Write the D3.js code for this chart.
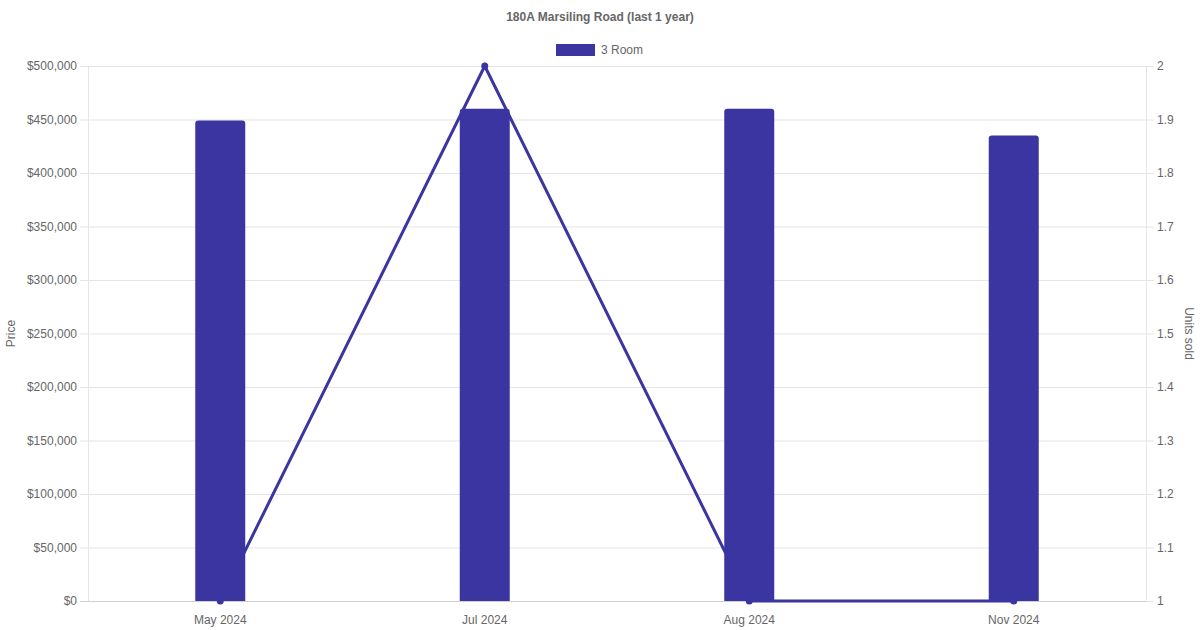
<!DOCTYPE html>
<html><head><meta charset="utf-8">
<script src="https://cdn.jsdelivr.net/npm/d3@7"></script>
<style>body{margin:0;background:#fff}svg{display:block;font-family:"Liberation Sans",Arial,Helvetica,sans-serif}</style>
</head><body><svg id="c" width="1200" height="630"></svg>
<script>
const title = "180A Marsiling Road (last 1 year)";
const seriesName = "3 Room";
const categories = ["May 2024", "Jul 2024", "Aug 2024", "Nov 2024"];
const prices = [449000, 460000, 460000, 435000];
const unitsSold = [1, 2, 1, 1];
const priceTicks = [0, 50000, 100000, 150000, 200000, 250000, 300000, 350000, 400000, 450000, 500000];
const unitTicks = [1, 1.1, 1.2, 1.3, 1.4, 1.5, 1.6, 1.7, 1.8, 1.9, 2];

const color = "#3a35a0";
const textColor = "#666";
const svg = d3.select("#c");
const L = 88, R = 1146, T = 66, B = 601;

const x = d3.scaleBand().domain(categories).range([L, R]);
const yP = d3.scaleLinear().domain([0, 500000]).range([B, T]);
const yU = d3.scaleLinear().domain([1, 2]).range([B, T]);

// gridlines
svg.append("g").selectAll("line").data(priceTicks).join("line")
  .attr("x1", L - 8).attr("x2", R).attr("y1", d => yP(d) + 0.5).attr("y2", d => yP(d) + 0.5)
  .attr("stroke", d => d === 0 ? "#cfcfcf" : "#e5e5e5").attr("stroke-width", 1);
svg.append("g").selectAll("line").data(unitTicks).join("line")
  .attr("x1", R).attr("x2", R + 8).attr("y1", d => yU(d) + 0.5).attr("y2", d => yU(d) + 0.5)
  .attr("stroke", "#e5e5e5");
svg.append("line").attr("x1", L + 0.5).attr("x2", L + 0.5).attr("y1", T).attr("y2", B).attr("stroke", "#e5e5e5");
svg.append("line").attr("x1", R + 0.5).attr("x2", R + 0.5).attr("y1", T).attr("y2", B).attr("stroke", "#e5e5e5");

// left axis labels
const fmt = d => "$" + d3.format(",")(d);
svg.append("g").selectAll("text").data(priceTicks).join("text")
  .attr("x", L - 11).attr("y", d => yP(d)).attr("dy", "0.35em").attr("text-anchor", "end")
  .attr("font-size", 12).attr("fill", textColor).text(fmt);
svg.append("g").selectAll("text").data(unitTicks).join("text")
  .attr("x", R + 11).attr("y", d => yU(d)).attr("dy", "0.35em").attr("text-anchor", "start")
  .attr("font-size", 12).attr("fill", textColor).text(d => d3.format("~g")(d));
// x labels
svg.append("g").selectAll("text").data(categories).join("text")
  .attr("x", d => x(d) + x.bandwidth() / 2).attr("y", 620).attr("dy", "0.35em").attr("text-anchor", "middle")
  .attr("font-size", 12).attr("fill", textColor).text(d => d);

// axis titles
svg.append("text").attr("transform", `translate(15,${(T + B) / 2}) rotate(-90)`).attr("text-anchor", "middle")
  .attr("font-size", 12).attr("fill", textColor).text("Price");
svg.append("text").attr("transform", `translate(1185,${(T + B) / 2}) rotate(90)`).attr("text-anchor", "middle")
  .attr("font-size", 12).attr("fill", textColor).text("Units sold");

// title and legend
svg.append("text").attr("x", 600).attr("y", 17).attr("dy", "0.35em").attr("text-anchor", "middle")
  .attr("font-size", 12).attr("font-weight", "bold").attr("fill", textColor).text(title);
svg.append("rect").attr("x", 556).attr("y", 44).attr("width", 39).attr("height", 12).attr("fill", color);
svg.append("text").attr("x", 601).attr("y", 50).attr("dy", "0.35em").attr("font-size", 12).attr("fill", textColor).text(seriesName);

// bars with rounded top
const bw = 50, r = 3;
svg.append("g").selectAll("path").data(categories).join("path")
  .attr("fill", color)
  .attr("d", (d, i) => {
    const cx = x(d) + x.bandwidth() / 2, x0 = cx - bw / 2, x1 = cx + bw / 2, y0 = yP(prices[i]), y1 = B;
    return `M${x0},${y1}V${y0 + r}Q${x0},${y0} ${x0 + r},${y0}H${x1 - r}Q${x1},${y0} ${x1},${y0 + r}V${y1}Z`;
  });

// line
const pts = categories.map((d, i) => [x(d) + x.bandwidth() / 2, yU(unitsSold[i])]);
svg.append("path").attr("d", d3.line()(pts)).attr("fill", "none").attr("stroke", color).attr("stroke-width", 3);
svg.append("g").selectAll("circle").data(pts).join("circle")
  .attr("cx", d => d[0]).attr("cy", d => d[1]).attr("r", 3.5).attr("fill", color);
</script></body></html>
